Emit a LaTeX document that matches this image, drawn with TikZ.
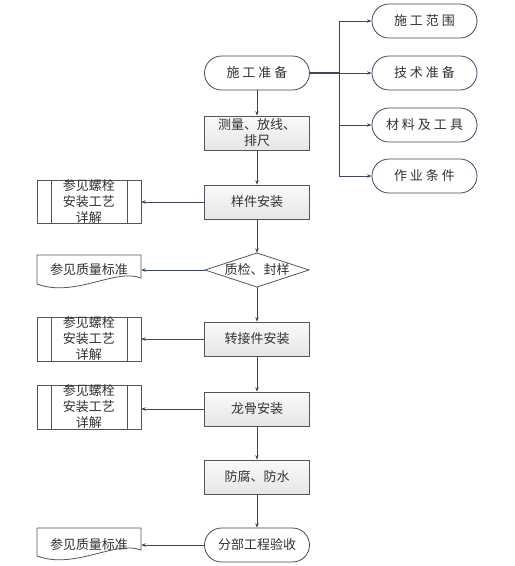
\documentclass[tikz,border=0pt]{standalone}
\usepackage{fontspec}
\setmainfont{Noto Sans CJK SC}
\usetikzlibrary{arrows.meta,calc}
\definecolor{lineclr}{RGB}{62,72,92}
\definecolor{boxclr}{RGB}{85,85,85}
\definecolor{txtclr}{RGB}{50,50,50}
\tikzset{
  base/.style={inner sep=0pt, align=center, text=txtclr, font=\fontsize{13}{16}\selectfont},
  stadium/.style={base, draw=lineclr, line width=0.8pt, fill=white, rounded corners=17pt, minimum width=105pt, minimum height=34pt},
  stepbox/.style={base, draw=boxclr, line width=0.8pt, top color=gray!4, bottom color=gray!20, minimum width=105pt, minimum height=34pt},
  ghost/.style={base, minimum width=104pt},
  shapeline/.style={draw=boxclr, line width=0.8pt, fill=white},
  conn/.style={draw=lineclr, line width=0.7pt},
  arr/.style={conn, -{Stealth[length=4.5pt,width=3.5pt]}},
}
\newcommand{\gsp}{\hspace{3pt}}
\begin{document}
\begin{tikzpicture}[x=1pt,y=-1pt]
\useasboundingbox (0,0) rectangle (515,566);
\fill[white] (0,0) rectangle (515,566);

% main column
\node[stadium] (prep) at (257,73) {施\gsp 工\gsp 准\gsp 备};
\node[stepbox] (meas) at (257,133) {测量、放线、\\排尺};
\node[stepbox] (samp) at (257,202) {样件安装};
\node[stepbox] (adap) at (257,339) {转接件安装};
\node[stepbox] (keel) at (257,409) {龙骨安装};
\node[stepbox] (anti) at (257,477) {防腐、防水};
\node[stadium] (acc) at (257,545) {分部工程验收};

% right column
\node[stadium] (r1) at (424.5,21) {施\gsp 工\gsp 范\gsp 围};
\node[stadium] (r2) at (424.5,73) {技\gsp 术\gsp 准\gsp 备};
\node[stadium] (r3) at (424.5,125) {材\gsp 料\gsp 及\gsp 工\gsp 具};
\node[stadium] (r4) at (424.5,176) {作\gsp 业\gsp 条\gsp 件};

% left column shapes
\draw[shapeline] (37,180) rectangle (141,223);
\draw[boxclr, line width=0.8pt] (51,180) -- (51,223) (127,180) -- (127,223);
\draw[shapeline] (37,317) rectangle (141,361);
\draw[boxclr, line width=0.8pt] (51,317) -- (51,361) (127,317) -- (127,361);
\draw[shapeline] (37,385) rectangle (141,429);
\draw[boxclr, line width=0.8pt] (51,385) -- (51,429) (127,385) -- (127,429);
\draw[shapeline] (37,255) -- (141,255) -- (141,278) .. controls (115,268) and (75,298) .. (37,284) -- cycle;
\draw[shapeline] (37,528) -- (141,528) -- (141,550) .. controls (115,540) and (75,570) .. (37,556) -- cycle;
% diamond
\draw[shapeline] (205,270) -- (257,253) -- (309,270) -- (257,287) -- cycle;
\node[ghost, minimum width=103pt, minimum height=34pt] (qc) at (257,270) {质检、封样};

\node[ghost, minimum height=43pt] (p1) at (89,201.5) {参见螺栓\\安装工艺\\详解};
\node[ghost, minimum height=30pt] (d1) at (89,270) {参见质量标准};
\node[ghost, minimum height=44pt] (p2) at (89,339) {参见螺栓\\安装工艺\\详解};
\node[ghost, minimum height=44pt] (p3) at (89,407) {参见螺栓\\安装工艺\\详解};
\node[ghost, minimum height=30pt] (d2) at (89,545) {参见质量标准};

% vertical flow
\draw[arr] (prep.south) -- (meas.north);
\draw[arr] (meas.south) -- (samp.north);
\draw[arr] (samp.south) -- (qc.north);
\draw[arr] (qc.south) -- (adap.north);
\draw[arr] (adap.south) -- (keel.north);
\draw[arr] (keel.south) -- (anti.north);
\draw[arr] (anti.south) -- (acc.north);

% left arrows
\draw[arr] (samp.west) -- (p1.east |- samp.west);
\draw[arr] (qc.west) -- (d1.east);
\draw[arr] (adap.west) -- (p2.east |- adap.west);
\draw[arr] (keel.west) -- (p3.east |- keel.west);
\draw[arr] (acc.west) -- (d2.east |- acc.west);

% branch
\coordinate (br) at (339,73);
\coordinate (bt) at (339,21);
\coordinate (b3) at (339,125);
\coordinate (bb) at (339,176);
\draw[conn, line width=1.1pt] (prep.east) -- (br);
\draw[conn] (bt) -- (bb);
\draw[arr] (bt) -- (r1.west);
\draw[arr] (br) -- (r2.west);
\draw[arr] (b3) -- (r3.west);
\draw[arr] (bb) -- (r4.west);
\end{tikzpicture}
\end{document}
